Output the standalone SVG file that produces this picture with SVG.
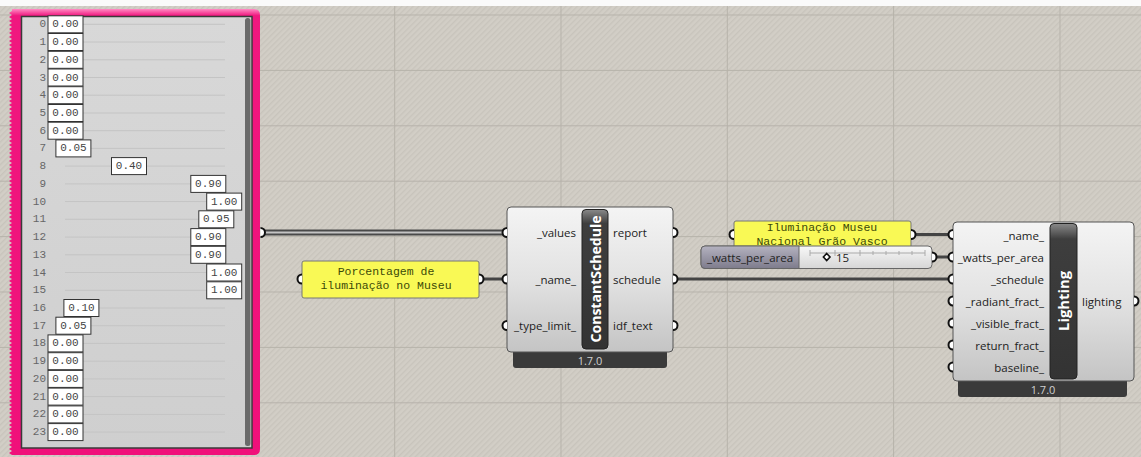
<svg xmlns="http://www.w3.org/2000/svg" width="1141" height="457" viewBox="0 0 1141 457">
<defs>
<pattern id="hatch" width="4" height="4" patternUnits="userSpaceOnUse" patternTransform="rotate(45)">
<rect width="4" height="4" fill="#d2cec6"/>
<rect width="1.4" height="4" fill="#c8c4bc"/>
</pattern>
<linearGradient id="body" x1="0" y1="0" x2="0" y2="1">
<stop offset="0" stop-color="#f4f4f4"/>
<stop offset="0.5" stop-color="#e2e2e2"/>
<stop offset="1" stop-color="#c4c4c4"/>
</linearGradient>
<linearGradient id="bar" x1="0" y1="0" x2="0" y2="1">
<stop offset="0" stop-color="#8a8a8a"/>
<stop offset="0.1" stop-color="#3e3e3e"/>
<stop offset="1" stop-color="#333"/>
</linearGradient>
<linearGradient id="pink" x1="0" y1="0" x2="0" y2="1">
<stop offset="0" stop-color="#ff8cc4"/>
<stop offset="0.015" stop-color="#f0187f"/>
<stop offset="1" stop-color="#f0107a"/>
</linearGradient>
<linearGradient id="sliderL" x1="0" y1="0" x2="0" y2="1">
<stop offset="0" stop-color="#b4b2c0"/>
<stop offset="1" stop-color="#7e7c8c"/>
</linearGradient>
<linearGradient id="sliderR" x1="0" y1="0" x2="0" y2="1">
<stop offset="0" stop-color="#f8f8f8"/>
<stop offset="1" stop-color="#d6d6d6"/>
</linearGradient>
<linearGradient id="mapper" x1="0" y1="0" x2="0" y2="1">
<stop offset="0" stop-color="#d8d8d8"/>
<stop offset="1" stop-color="#cfcfcf"/>
</linearGradient>
</defs>
<style>
.port{fill:#fff;stroke:#111;stroke-width:2}
.body{fill:url(#body);stroke:#555;stroke-width:1}
.bar{fill:url(#bar);stroke:#222;stroke-width:1}
.foot{fill:#3a3a3a}
.ver{font-family:"Open Sans","Noto Sans",sans-serif;font-size:11px;fill:#d0d0d0;text-anchor:middle;dominant-baseline:central}
.lbl{font-family:"Open Sans","Noto Sans",sans-serif;font-size:11.5px;fill:#222;dominant-baseline:central}
.in{text-anchor:end}
.title{font-family:"Open Sans","Noto Sans",sans-serif;font-weight:bold;fill:#fff;text-anchor:middle;dominant-baseline:central}
.panel{fill:#f9f955;stroke:#777;stroke-width:1}
.ptxt{font-family:"Liberation Mono","DejaVu Sans Mono",monospace;font-size:11.5px;fill:#3c4a08;text-anchor:middle;dominant-baseline:central}
.num{fill:#fff;stroke:#333;stroke-width:1}
.ntxt{font-family:"Liberation Mono","DejaVu Sans Mono",monospace;font-size:11px;fill:#444;text-anchor:middle;dominant-baseline:central}
.idx{font-family:"Liberation Mono","DejaVu Sans Mono",monospace;font-size:11px;fill:#666;text-anchor:end;dominant-baseline:central}
.rowl{stroke:#c4c4c4;stroke-width:1}
.grid{stroke:#b7b3ab;stroke-width:1}
.wire{stroke:#444;stroke-width:3;fill:none}
</style>
<rect width="1141" height="457" fill="url(#hatch)"/>
<rect width="1141" height="6" fill="#fafafa"/>
<g id="grid">
<line class="grid" x1="0" y1="15" x2="1141" y2="15"/>
<line class="grid" x1="0" y1="70.4" x2="1141" y2="70.4"/>
<line class="grid" x1="0" y1="125.8" x2="1141" y2="125.8"/>
<line class="grid" x1="0" y1="181.2" x2="1141" y2="181.2"/>
<line class="grid" x1="0" y1="236.6" x2="1141" y2="236.6"/>
<line class="grid" x1="0" y1="292" x2="1141" y2="292"/>
<line class="grid" x1="0" y1="347.4" x2="1141" y2="347.4"/>
<line class="grid" x1="0" y1="402.8" x2="1141" y2="402.8"/>
<line class="grid" x1="394.7" y1="6" x2="394.7" y2="457"/>
<line class="grid" x1="561" y1="6" x2="561" y2="457"/>
<line class="grid" x1="727.3" y1="6" x2="727.3" y2="457"/>
<line class="grid" x1="893.6" y1="6" x2="893.6" y2="457"/>
<line class="grid" x1="1060" y1="6" x2="1060" y2="457"/>
</g>
<g id="connectors">
<line x1="263" y1="232.5" x2="505" y2="232.5" stroke="#4a4a4a" stroke-width="6"/>
<line x1="263" y1="232.5" x2="505" y2="232.5" stroke="#c4c4c4" stroke-width="2"/>
<line class="wire" x1="481" y1="279" x2="505" y2="279"/>
<line class="wire" x1="675" y1="279" x2="951" y2="279"/>
<line class="wire" x1="913" y1="234.5" x2="951" y2="234.5"/>
<line class="wire" x1="934" y1="257" x2="951" y2="257"/>
</g>
<g id="graph-mapper">
<path fill="url(#pink)" d="M12 9 H254 Q260 9 260 15 V449 Q260 455 254 455 H12 L9 453 L12 451 L9 449 L12 447 L9 445 L12 443 L9 441 L12 439 L9 437 L12 435 L9 433 L12 431 L9 429 L12 427 L9 425 L12 423 L9 421 L12 419 L9 417 L12 415 L9 413 L12 411 L9 409 L12 407 L9 405 L12 403 L9 401 L12 399 L9 397 L12 395 L9 393 L12 391 L9 389 L12 387 L9 385 L12 383 L9 381 L12 379 L9 377 L12 375 L9 373 L12 371 L9 369 L12 367 L9 365 L12 363 L9 361 L12 359 L9 357 L12 355 L9 353 L12 351 L9 349 L12 347 L9 345 L12 343 L9 341 L12 339 L9 337 L12 335 L9 333 L12 331 L9 329 L12 327 L9 325 L12 323 L9 321 L12 319 L9 317 L12 315 L9 313 L12 311 L9 309 L12 307 L9 305 L12 303 L9 301 L12 299 L9 297 L12 295 L9 293 L12 291 L9 289 L12 287 L9 285 L12 283 L9 281 L12 279 L9 277 L12 275 L9 273 L12 271 L9 269 L12 267 L9 265 L12 263 L9 261 L12 259 L9 257 L12 255 L9 253 L12 251 L9 249 L12 247 L9 245 L12 243 L9 241 L12 239 L9 237 L12 235 L9 233 L12 231 L9 229 L12 227 L9 225 L12 223 L9 221 L12 219 L9 217 L12 215 L9 213 L12 211 L9 209 L12 207 L9 205 L12 203 L9 201 L12 199 L9 197 L12 195 L9 193 L12 191 L9 189 L12 187 L9 185 L12 183 L9 181 L12 179 L9 177 L12 175 L9 173 L12 171 L9 169 L12 167 L9 165 L12 163 L9 161 L12 159 L9 157 L12 155 L9 153 L12 151 L9 149 L12 147 L9 145 L12 143 L9 141 L12 139 L9 137 L12 135 L9 133 L12 131 L9 129 L12 127 L9 125 L12 123 L9 121 L12 119 L9 117 L12 115 L9 113 L12 111 L9 109 L12 107 L9 105 L12 103 L9 101 L12 99 L9 97 L12 95 L9 93 L12 91 L9 89 L12 87 L9 85 L12 83 L9 81 L12 79 L9 77 L12 75 L9 73 L12 71 L9 69 L12 67 L9 65 L12 63 L9 61 L12 59 L9 57 L12 55 L9 53 L12 51 L9 49 L12 47 L9 45 L12 43 L9 41 L12 39 L9 37 L12 35 L9 33 L12 31 L9 29 L12 27 L9 25 L12 23 L9 21 L12 19 L9 17 L12 15 L9 13 L12 11 Z"/>
<rect x="21.5" y="16.5" width="230.5" height="431.5" fill="url(#mapper)" stroke="#3a3a3a" stroke-width="1.5"/>
<rect x="245" y="18" width="5.5" height="428" rx="2.5" fill="#6a6a6a"/>
<g>
<line class="rowl" x1="65" y1="24.3" x2="225" y2="24.3"/><line class="rowl" x1="65" y1="42" x2="225" y2="42"/><line class="rowl" x1="65" y1="59.8" x2="225" y2="59.8"/><line class="rowl" x1="65" y1="77.5" x2="225" y2="77.5"/><line class="rowl" x1="65" y1="95.2" x2="225" y2="95.2"/><line class="rowl" x1="65" y1="113" x2="225" y2="113"/><line class="rowl" x1="65" y1="130.7" x2="225" y2="130.7"/><line class="rowl" x1="65" y1="148.4" x2="225" y2="148.4"/><line class="rowl" x1="65" y1="166.1" x2="225" y2="166.1"/><line class="rowl" x1="65" y1="183.9" x2="225" y2="183.9"/><line class="rowl" x1="65" y1="201.6" x2="225" y2="201.6"/><line class="rowl" x1="65" y1="219.3" x2="225" y2="219.3"/><line class="rowl" x1="65" y1="237.1" x2="225" y2="237.1"/><line class="rowl" x1="65" y1="254.8" x2="225" y2="254.8"/><line class="rowl" x1="65" y1="272.5" x2="225" y2="272.5"/><line class="rowl" x1="65" y1="290.3" x2="225" y2="290.3"/><line class="rowl" x1="65" y1="308" x2="225" y2="308"/><line class="rowl" x1="65" y1="325.7" x2="225" y2="325.7"/><line class="rowl" x1="65" y1="343.4" x2="225" y2="343.4"/><line class="rowl" x1="65" y1="361.2" x2="225" y2="361.2"/><line class="rowl" x1="65" y1="378.9" x2="225" y2="378.9"/><line class="rowl" x1="65" y1="396.6" x2="225" y2="396.6"/><line class="rowl" x1="65" y1="414.4" x2="225" y2="414.4"/><line class="rowl" x1="65" y1="432.1" x2="225" y2="432.1"/>
</g>
<g>
<text class="idx" x="46" y="24.3">0</text><text class="idx" x="46" y="42">1</text><text class="idx" x="46" y="59.8">2</text><text class="idx" x="46" y="77.5">3</text><text class="idx" x="46" y="95.2">4</text><text class="idx" x="46" y="113">5</text><text class="idx" x="46" y="130.7">6</text><text class="idx" x="46" y="148.4">7</text><text class="idx" x="46" y="166.1">8</text><text class="idx" x="46" y="183.9">9</text><text class="idx" x="46" y="201.6">10</text><text class="idx" x="46" y="219.3">11</text><text class="idx" x="46" y="237.1">12</text><text class="idx" x="46" y="254.8">13</text><text class="idx" x="46" y="272.5">14</text><text class="idx" x="46" y="290.3">15</text><text class="idx" x="46" y="308">16</text><text class="idx" x="46" y="325.7">17</text><text class="idx" x="46" y="343.4">18</text><text class="idx" x="46" y="361.2">19</text><text class="idx" x="46" y="378.9">20</text><text class="idx" x="46" y="396.6">21</text><text class="idx" x="46" y="414.4">22</text><text class="idx" x="46" y="432.1">23</text>
</g>
<g>
<rect class="num" x="48" y="15.8" width="35" height="17"/><text class="ntxt" x="65.5" y="24.3">0.00</text>
<rect class="num" x="48" y="33.5" width="35" height="17"/><text class="ntxt" x="65.5" y="42">0.00</text>
<rect class="num" x="48" y="51.3" width="35" height="17"/><text class="ntxt" x="65.5" y="59.8">0.00</text>
<rect class="num" x="48" y="69" width="35" height="17"/><text class="ntxt" x="65.5" y="77.5">0.00</text>
<rect class="num" x="48" y="86.7" width="35" height="17"/><text class="ntxt" x="65.5" y="95.2">0.00</text>
<rect class="num" x="48" y="104.5" width="35" height="17"/><text class="ntxt" x="65.5" y="113">0.00</text>
<rect class="num" x="48" y="122.2" width="35" height="17"/><text class="ntxt" x="65.5" y="130.7">0.00</text>
<rect class="num" x="55.9" y="139.9" width="35" height="17"/><text class="ntxt" x="73.4" y="148.4">0.05</text>
<rect class="num" x="111.5" y="157.6" width="35" height="17"/><text class="ntxt" x="129" y="166.1">0.40</text>
<rect class="num" x="190.8" y="175.4" width="35" height="17"/><text class="ntxt" x="208.3" y="183.9">0.90</text>
<rect class="num" x="206.7" y="193.1" width="35" height="17"/><text class="ntxt" x="224.2" y="201.6">1.00</text>
<rect class="num" x="198.8" y="210.8" width="35" height="17"/><text class="ntxt" x="216.3" y="219.3">0.95</text>
<rect class="num" x="190.8" y="228.6" width="35" height="17"/><text class="ntxt" x="208.3" y="237.1">0.90</text>
<rect class="num" x="190.8" y="246.3" width="35" height="17"/><text class="ntxt" x="208.3" y="254.8">0.90</text>
<rect class="num" x="206.7" y="264" width="35" height="17"/><text class="ntxt" x="224.2" y="272.5">1.00</text>
<rect class="num" x="206.7" y="281.8" width="35" height="17"/><text class="ntxt" x="224.2" y="290.3">1.00</text>
<rect class="num" x="63.9" y="299.5" width="35" height="17"/><text class="ntxt" x="81.4" y="308">0.10</text>
<rect class="num" x="55.9" y="317.2" width="35" height="17"/><text class="ntxt" x="73.4" y="325.7">0.05</text>
<rect class="num" x="48" y="334.9" width="35" height="17"/><text class="ntxt" x="65.5" y="343.4">0.00</text>
<rect class="num" x="48" y="352.7" width="35" height="17"/><text class="ntxt" x="65.5" y="361.2">0.00</text>
<rect class="num" x="48" y="370.4" width="35" height="17"/><text class="ntxt" x="65.5" y="378.9">0.00</text>
<rect class="num" x="48" y="388.1" width="35" height="17"/><text class="ntxt" x="65.5" y="396.6">0.00</text>
<rect class="num" x="48" y="405.9" width="35" height="17"/><text class="ntxt" x="65.5" y="414.4">0.00</text>
<rect class="num" x="48" y="423.6" width="35" height="17"/><text class="ntxt" x="65.5" y="432.1">0.00</text>
</g>
<path class="port" d="M260.5 228 A4.5 4.5 0 0 1 260.5 237"/>
</g>
<g id="panel-porcentagem">
<rect class="panel" x="302" y="261" width="177" height="37" rx="2"/>
<text class="ptxt" x="386" y="271.5">Porcentagem de</text>
<text class="ptxt" x="386" y="285.5">iluminação no Museu</text>
<path class="port" d="M302 274.5 A4.5 4.5 0 0 0 302 283.5"/>
<path class="port" d="M479 274.5 A4.5 4.5 0 0 1 479 283.5"/>
</g>
<g id="constant-schedule">
<rect class="foot" x="513" y="345" width="154" height="23" rx="3"/>
<text class="ver" x="590" y="360">1.7.0</text>
<rect class="body" x="507" y="207" width="166" height="145" rx="4"/>
<rect class="bar" x="582" y="209.5" width="26" height="139.5" rx="4"/>
<text class="title" font-size="13.5" transform="translate(595.5 279) rotate(-90)" textLength="127" lengthAdjust="spacingAndGlyphs">ConstantSchedule</text>
<text class="lbl in" x="576" y="232">_values</text>
<text class="lbl in" x="576" y="279">_name_</text>
<text class="lbl in" x="576" y="325.5">_type_limit_</text>
<text class="lbl" x="613" y="232">report</text>
<text class="lbl" x="613" y="279">schedule</text>
<text class="lbl" x="613" y="325.5">idf_text</text>
<path class="port" d="M507 228 A4.5 4.5 0 0 0 507 237"/>
<path class="port" d="M507 274.5 A4.5 4.5 0 0 0 507 283.5"/>
<path class="port" d="M507 321 A4.5 4.5 0 0 0 507 330"/>
<path class="port" d="M673 228 A4.5 4.5 0 0 1 673 237"/>
<path class="port" d="M673 274.5 A4.5 4.5 0 0 1 673 283.5"/>
<path class="port" d="M673 321 A4.5 4.5 0 0 1 673 330"/>
</g>
<g id="panel-iluminacao">
<rect class="panel" x="734" y="221" width="177" height="30" rx="2"/>
<text class="ptxt" x="822" y="227">Iluminação Museu</text>
<text class="ptxt" x="822" y="241">Nacional Grão Vasco</text>
<path class="port" d="M734 230 A4.5 4.5 0 0 0 734 239"/>
<path class="port" d="M911 230 A4.5 4.5 0 0 1 911 239"/>
</g>
<g id="slider-watts">
<rect x="701" y="246" width="231" height="22.5" rx="4" fill="url(#sliderR)" stroke="#666" stroke-width="1"/>
<path d="M705 246 H799 V268.5 H705 Q701 268.5 701 264.5 V250 Q701 246 705 246 Z" fill="url(#sliderL)" stroke="#666" stroke-width="1"/>
<text class="lbl" x="750" y="257.5" text-anchor="middle" fill="#2a2a2a">_watts_per_area</text>
<g stroke="#aaa" stroke-width="1">
<line x1="810" y1="253" x2="925" y2="253"/>
<line x1="810" y1="250" x2="810" y2="256"/>
<line x1="835" y1="250" x2="835" y2="256"/>
<line x1="860" y1="250" x2="860" y2="256"/>
<line x1="873" y1="251" x2="873" y2="255"/>
<line x1="886" y1="251" x2="886" y2="255"/>
<line x1="899" y1="251" x2="899" y2="255"/>
<line x1="912" y1="251" x2="912" y2="255"/>
<line x1="925" y1="250" x2="925" y2="256"/>
</g>
<path d="M826.7 253.5 L830 257 L826.7 260.5 L823.4 257 Z" fill="#fff" stroke="#111" stroke-width="1.6"/>
<text class="lbl" x="836" y="257.5" font-size="13">15</text>
<path class="port" d="M932 252.5 A4.5 4.5 0 0 1 932 261.5"/>
</g>
<g id="lighting">
<rect class="foot" x="958" y="374" width="169" height="23" rx="3"/>
<text class="ver" x="1043" y="389">1.7.0</text>
<rect class="body" x="953" y="222" width="181" height="159" rx="4"/>
<rect class="bar" x="1050" y="223.5" width="27" height="155.5" rx="4"/>
<text class="title" font-size="14.5" transform="translate(1063.5 301) rotate(-90)" textLength="60" lengthAdjust="spacingAndGlyphs">Lighting</text>
<text class="lbl in" x="1044" y="235">_name_</text>
<text class="lbl in" x="1044" y="257">_watts_per_area</text>
<text class="lbl in" x="1044" y="279">_schedule</text>
<text class="lbl in" x="1044" y="301">_radiant_fract_</text>
<text class="lbl in" x="1044" y="323">_visible_fract_</text>
<text class="lbl in" x="1044" y="345">return_fract_</text>
<text class="lbl in" x="1044" y="367">baseline_</text>
<text class="lbl" x="1082" y="301">lighting</text>
<path class="port" d="M953 230 A4.5 4.5 0 0 0 953 239"/>
<path class="port" d="M953 252.5 A4.5 4.5 0 0 0 953 261.5"/>
<path class="port" d="M953 274.5 A4.5 4.5 0 0 0 953 283.5"/>
<path class="port" d="M953 296.5 A4.5 4.5 0 0 0 953 305.5"/>
<path class="port" d="M953 318.5 A4.5 4.5 0 0 0 953 327.5"/>
<path class="port" d="M953 340.5 A4.5 4.5 0 0 0 953 349.5"/>
<path class="port" d="M953 362.5 A4.5 4.5 0 0 0 953 371.5"/>
<path class="port" d="M1134 296.5 A4.5 4.5 0 0 1 1134 305.5"/>
</g>
</svg>
